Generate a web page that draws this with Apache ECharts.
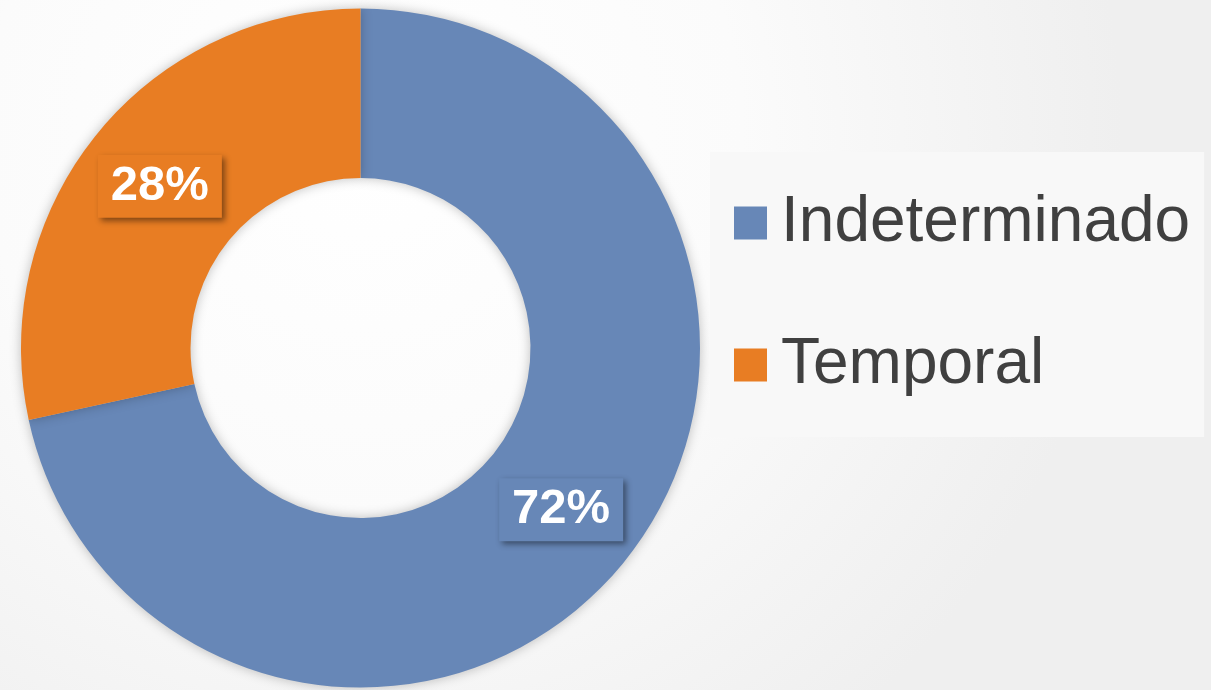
<!DOCTYPE html>
<html>
<head>
<meta charset="utf-8">
<script src="https://cdn.jsdelivr.net/npm/echarts@6/dist/echarts.min.js"></script>
<style>
  html, body { margin: 0; padding: 0; }
  #chart { width: 1211px; height: 690px; }
</style>
</head>
<body>
<div id="chart"></div>
<script>
const categories = ['Indeterminado', 'Temporal'];
const values = [71.6, 28.4];
const colors = ['#6787b7', '#e87d23'];

const chart = echarts.init(document.getElementById('chart'));

const pieData = categories.map((name, i) => ({
  name: name,
  value: values[i],
  itemStyle: { color: colors[i] },
  label: { backgroundColor: colors[i] }
}));

const option = {
  backgroundColor: {
    type: 'radial',
    x: 0.3, y: 0.2, r: 1.1,
    colorStops: [
      { offset: 0, color: '#ffffff' },
      { offset: 0.5, color: '#fbfbfb' },
      { offset: 1, color: '#efefef' }
    ]
  },
  legend: {
    orient: 'vertical',
    left: 710,
    top: 152,
    backgroundColor: '#f8f8f8',
    padding: [39, 14, 40, 24],
    itemWidth: 33,
    itemHeight: 33,
    itemGap: 78,
    icon: 'rect',
    data: categories,
    textStyle: {
      fontFamily: 'Liberation Sans, Arial, sans-serif',
      fontSize: 64,
      lineHeight: 64,
      color: '#404040',
      padding: [0, 0, 0, 9]
    }
  },
  series: [{
    type: 'pie',
    center: [360.5, 348],
    radius: [170, 339.5],
    startAngle: 90,
    clockwise: true,
    silent: true,
    itemStyle: {
      shadowBlur: 12,
      shadowColor: 'rgba(0,0,0,0.25)'
    },
    label: {
      show: true,
      position: 'inside',
      formatter: p => Math.round(p.value) + '%',
      color: '#ffffff',
      fontFamily: 'Liberation Sans, Arial, sans-serif',
      fontWeight: 'bold',
      fontSize: 49,
      padding: [8, 13, 6, 13],
      shadowBlur: 6,
      shadowOffsetX: 3,
      shadowOffsetY: 3,
      shadowColor: 'rgba(0,0,0,0.45)'
    },
    labelLine: { show: false },
    data: pieData
  }]
};

chart.setOption(option);
</script>
</body>
</html>
